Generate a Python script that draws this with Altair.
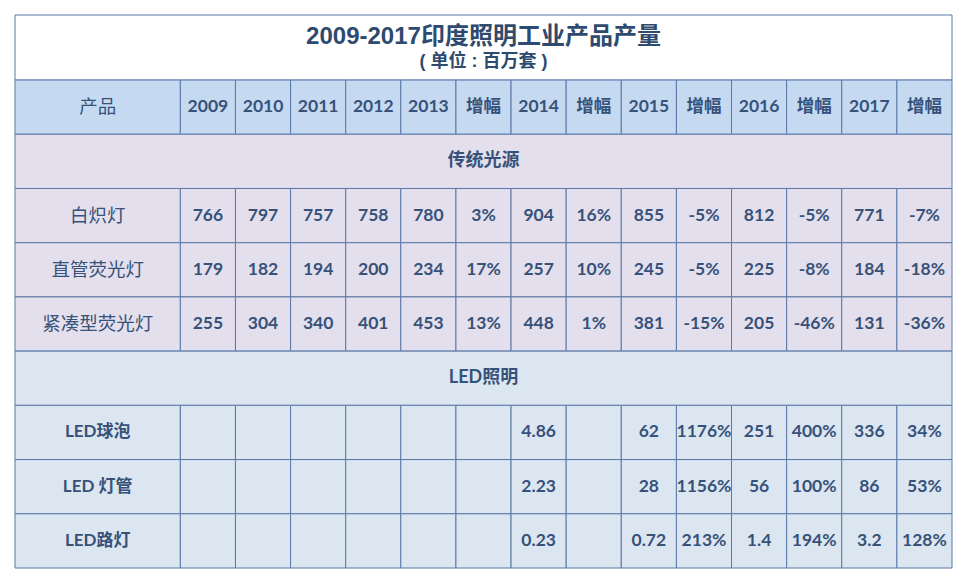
import altair as alt
import pandas as pd

# ---------------- data ----------------
title = "2009-2017印度照明工业产品产量"
subtitle = "( 单位 : 百万套 )"
first_header = "产品"
col_headers = ["2009", "2010", "2011", "2012", "2013", "增幅", "2014", "增幅",
               "2015", "增幅", "2016", "增幅", "2017", "增幅"]
sections = ["传统光源", "LED照明"]

trad_products = ["白炽灯", "直管荧光灯", "紧凑型荧光灯"]
trad_values = [
    ["766", "797", "757", "758", "780", "3%", "904", "16%", "855", "-5%", "812", "-5%", "771", "-7%"],
    ["179", "182", "194", "200", "234", "17%", "257", "10%", "245", "-5%", "225", "-8%", "184", "-18%"],
    ["255", "304", "340", "401", "453", "13%", "448", "1%", "381", "-15%", "205", "-46%", "131", "-36%"],
]
led_products = ["LED球泡", "LED 灯管", "LED路灯"]
led_values = [
    ["", "", "", "", "", "", "4.86", "", "62", "1176%", "251", "400%", "336", "34%"],
    ["", "", "", "", "", "", "2.23", "", "28", "1156%", "56", "100%", "86", "53%"],
    ["", "", "", "", "", "", "0.23", "", "0.72", "213%", "1.4", "194%", "3.2", "128%"],
]

# ---------------- layout ----------------
FIRST_W = 3.0          # first column width in column units
N_COLS = len(col_headers)
TOTAL_W = FIRST_W + N_COLS
TITLE_H = 1.2
TOTAL_H = TITLE_H + 1 + 2 * (1 + 3)

WHITE = "#ffffff"
HEAD = "#c5d9f1"
PINK = "#e4dfec"
BLUE = "#dce6f1"
LINE = "#5a78a8"
TXT = "#36527a"
TITLE_TXT = "#2e4a6e"

rects = []
texts = []  # (x, y, text, style)

def col_x(i):
    return FIRST_W + i

# title block
rects.append(dict(x=0, x2=TOTAL_W, y=0, y2=TITLE_H, fill=WHITE))
texts.append(dict(x=TOTAL_W / 2, y=TITLE_H * 0.34, t=title, s="title"))
texts.append(dict(x=TOTAL_W / 2, y=TITLE_H * 0.73, t=subtitle, s="sub"))

# header row
r0 = TITLE_H
rects.append(dict(x=0, x2=FIRST_W, y=r0, y2=r0 + 1, fill=HEAD))
texts.append(dict(x=FIRST_W / 2, y=r0 + 0.5, t=first_header, s="cjk_reg"))
for i, h in enumerate(col_headers):
    rects.append(dict(x=col_x(i), x2=col_x(i) + 1, y=r0, y2=r0 + 1, fill=HEAD))
    texts.append(dict(x=col_x(i) + 0.5, y=r0 + 0.5, t=h, s="num"))

row = r0 + 1
for sec, prods, vals, fill, lab_style in [
    (sections[0], trad_products, trad_values, PINK, "cjk_reg"),
    (sections[1], led_products, led_values, BLUE, "bold"),
]:
    rects.append(dict(x=0, x2=TOTAL_W, y=row, y2=row + 1, fill=fill))
    texts.append(dict(x=TOTAL_W / 2, y=row + 0.5, t=sec, s="section"))
    row += 1
    for p, vs in zip(prods, vals):
        rects.append(dict(x=0, x2=FIRST_W, y=row, y2=row + 1, fill=fill))
        texts.append(dict(x=FIRST_W / 2, y=row + 0.5, t=p, s=lab_style))
        for i, v in enumerate(vs):
            rects.append(dict(x=col_x(i), x2=col_x(i) + 1, y=row, y2=row + 1, fill=fill))
            if v:
                texts.append(dict(x=col_x(i) + 0.5, y=row + 0.5, t=v, s="num"))
        row += 1

rect_df = pd.DataFrame(rects)
text_df = pd.DataFrame(texts)

xs = alt.Scale(domain=[0, TOTAL_W], nice=False, zero=False)
ys = alt.Scale(domain=[0, TOTAL_H], nice=False, zero=False, reverse=True)

cells = alt.Chart(rect_df).mark_rect(stroke=LINE, strokeWidth=1).encode(
    x=alt.X("x:Q", scale=xs, axis=None),
    x2="x2:Q",
    y=alt.Y("y:Q", scale=ys, axis=None),
    y2="y2:Q",
    fill=alt.Fill("fill:N", scale=None),
)

def text_layer(style, font, size, weight, color=TXT):
    return alt.Chart(text_df).transform_filter(
        alt.datum.s == style
    ).mark_text(
        font=font, fontSize=size, fontWeight=weight, color=color,
        align="center", baseline="middle"
    ).encode(
        x=alt.X("x:Q", scale=xs, axis=None),
        y=alt.Y("y:Q", scale=ys, axis=None),
        text="t:N",
    )

layers = [
    cells,
    text_layer("title", "Liberation Sans, Noto Sans CJK SC", 24, "bold", TITLE_TXT),
    text_layer("sub", "Liberation Sans, Noto Sans CJK SC", 18, "bold", TITLE_TXT),
    text_layer("cjk_reg", "Noto Sans CJK SC", 18.5, "normal"),
    text_layer("section", "Lato, Noto Sans CJK SC", 18, "bold"),
    text_layer("bold", "Lato, Noto Sans CJK SC", 17, "bold"),
    text_layer("num", "Lato, Noto Sans CJK SC", 17.5, "bold"),
]

chart = alt.layer(*layers).properties(
    width=937, height=553,
    padding={"left": 7, "top": 7, "right": 8, "bottom": 7},
    autosize=alt.AutoSizeParams(type="none"),
    background="white",
).configure_view(strokeWidth=0)

chart.save("out.html", embed_options={"renderer": "svg", "actions": False})
